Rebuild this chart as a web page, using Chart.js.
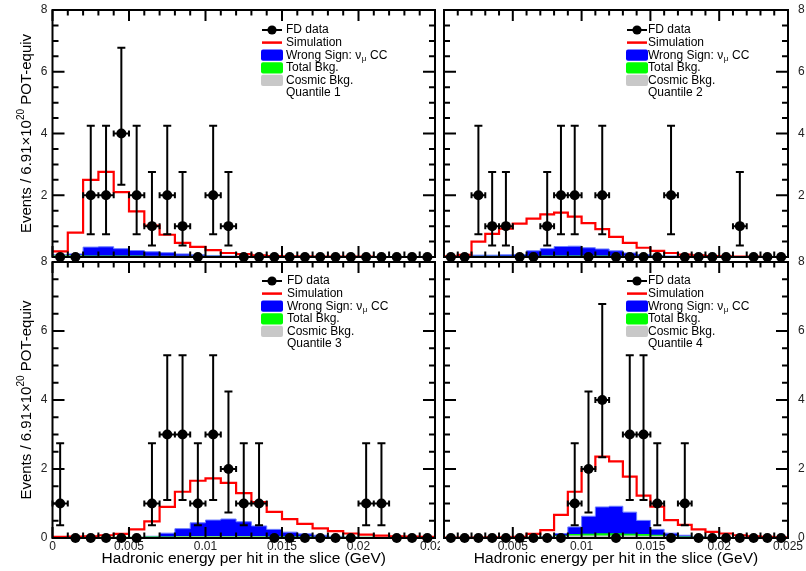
<!DOCTYPE html>
<html>
<head>
<meta charset="utf-8">
<script src="https://cdn.jsdelivr.net/npm/chart.js@4.4.0/dist/chart.umd.min.js"></script>
<style>
body{margin:0;background:#fff;width:806px;height:571px;overflow:hidden;position:relative}
canvas{position:absolute}
</style>
</head>
<body>
<canvas id="q1" style="left:0;top:0" width="440" height="262"></canvas>
<canvas id="q2" style="left:439px;top:0" width="367" height="262"></canvas>
<canvas id="q3" style="left:0;top:250px" width="440" height="321"></canvas>
<canvas id="q4" style="left:439px;top:250px" width="367" height="321"></canvas>
<script>
// binning: 25 bins of 0.001 GeV
const binWidth=0.001;
const nBins=25;
const xTicks=[0,0.005,0.01,0.015,0.02,0.025];
const xTickLabels=["0","0.005","0.01","0.015","0.02","0.025"];
const yTicks=[0,2,4,6,8];

// Feldman-Cousins 68% intervals for n = 0..4
const fcLow=[0,0.37,0.74,1.10,2.34];
const fcHigh=[1.29,2.75,4.25,5.30,6.78];

// quantile 1
const q1Data=[0,0,2,2,4,2,1,2,1,0,2,1,0,0,0,0,0,0,0,0,0,0,0,0,0];
const q1Sim=[0.18,0.79,2.5,2.76,2.1,1.48,1.02,0.72,0.46,0.33,0.22,0.13,0.09,0.05,0.03,0.02,0.02,0.01,0.01,0.01,0.01,0,0,0,0];
const q1Wrong=[0.07,0.1,0.32,0.33,0.27,0.21,0.17,0.14,0.1,0.07,0.05,0.03,0.02,0.01,0.01,0,0,0,0,0,0,0,0,0,0];
const q1Bkg=[0.04,0.04,0.03,0.03,0.03,0.03,0.02,0.02,0.02,0.02,0.02,0.01,0.01,0.01,0.01,0.01,0.01,0.01,0.01,0,0,0,0,0,0];
const q1Cosmic=[0.03,0.03,0.02,0.02,0.02,0.02,0.02,0.02,0.02,0.02,0.01,0.01,0.01,0.01,0.01,0.01,0.01,0.01,0.01,0.01,0.01,0.01,0.01,0.01,0.01];

// quantile 2
const q2Data=[0,0,2,1,1,0,0,1,2,2,0,2,0,0,0,0,2,0,0,0,0,1,0,0,0];
const q2Sim=[0.02,0.07,0.5,0.75,0.92,1.08,1.24,1.38,1.44,1.31,1.1,0.9,0.65,0.46,0.3,0.2,0.13,0.08,0.05,0.03,0.02,0.01,0.01,0,0];
const q2Wrong=[0,0.03,0.06,0.06,0.07,0.08,0.2,0.27,0.34,0.35,0.3,0.26,0.2,0.13,0.08,0.05,0.03,0.02,0.01,0,0,0,0,0,0];
const q2Bkg=[0,0.01,0.02,0.02,0.02,0.02,0.02,0.03,0.03,0.03,0.03,0.03,0.02,0.02,0.02,0.02,0.01,0.01,0.01,0.01,0.01,0,0,0,0];
const q2Cosmic=[0.01,0.01,0.01,0.01,0.01,0.01,0.01,0.02,0.02,0.02,0.02,0.02,0.02,0.02,0.02,0.01,0.01,0.01,0.01,0.01,0.01,0.01,0.01,0.01,0.01];

// quantile 3
const q3Data=[1,0,0,0,0,0,1,3,3,1,3,2,1,1,0,0,0,0,0,0,1,1,0,0,0];
const q3Sim=[0.03,0.04,0.05,0.08,0.12,0.25,0.48,0.9,1.34,1.66,1.73,1.6,1.3,1.04,0.76,0.55,0.41,0.28,0.2,0.13,0.1,0.07,0.05,0.04,0.03];
const q3Wrong=[0,0,0,0,0.01,0.02,0.05,0.14,0.27,0.44,0.52,0.55,0.47,0.35,0.25,0.17,0.12,0.08,0.05,0.03,0.02,0.01,0,0,0];
const q3Bkg=[0.02,0.02,0.02,0.02,0.02,0.02,0.03,0.03,0.04,0.04,0.04,0.04,0.04,0.04,0.03,0.03,0.03,0.02,0.02,0.02,0.02,0.01,0.01,0.01,0.01];
const q3Cosmic=[0.02,0.02,0.02,0.02,0.02,0.02,0.02,0.02,0.03,0.03,0.03,0.03,0.03,0.03,0.02,0.02,0.02,0.02,0.02,0.01,0.01,0.01,0.01,0.01,0.01];

// quantile 4
const q4Data=[0,0,0,0,0,0,0,0,0,1,2,4,0,3,3,1,0,1,0,0,0,0,0,0,0];
const q4Sim=[0.01,0.01,0.01,0.02,0.02,0.03,0.12,0.23,0.67,1.34,2.0,2.36,2.22,1.78,1.23,0.91,0.52,0.38,0.25,0.18,0.13,0.08,0.05,0.03,0.02];
const q4Wrong=[0,0,0,0,0,0,0.01,0.04,0.13,0.32,0.63,0.9,0.92,0.75,0.51,0.25,0.14,0.08,0.04,0.02,0.01,0,0,0,0];
const q4Bkg=[0.01,0.01,0.01,0.01,0.01,0.01,0.02,0.02,0.06,0.1,0.11,0.12,0.12,0.11,0.1,0.08,0.05,0.03,0.02,0.01,0.01,0.01,0.01,0.01,0.01];
const q4Cosmic=[0.01,0.01,0.01,0.01,0.01,0.01,0.01,0.02,0.04,0.06,0.06,0.06,0.06,0.06,0.05,0.05,0.04,0.02,0.02,0.01,0.01,0.01,0.01,0.01,0.01];

const FONT='"Liberation Sans", Arial, Helvetica, sans-serif';

function histPts(vals){
let p=vals.map((v,i)=>({x:i*binWidth,y:v}));
p.push({x:nBins*binWidth,y:vals[nBins-1]});
return p;
}
function dataPts(vals){
return vals.map((v,i)=>({x:(i+0.5)*binWidth,y:v}));
}

function drawFrame(chart){
const ctx=chart.ctx,a=chart.chartArea,xs=chart.scales.x,ys=chart.scales.y;
ctx.save();
ctx.strokeStyle="#000";
ctx.lineWidth=2;
ctx.strokeRect(a.left,a.top,a.right-a.left,a.bottom-a.top);
ctx.beginPath();
for(let k=0;k<=16;k++){
let y=ys.getPixelForValue(k*0.5);
let len=k%4===0?12:6;
ctx.moveTo(a.left,y);ctx.lineTo(a.left+len,y);
ctx.moveTo(a.right,y);ctx.lineTo(a.right-len,y);
}
for(let k=0;k<=nBins;k++){
let x=xs.getPixelForValue(k*binWidth);
let len=k%5===0?11:5.5;
ctx.moveTo(x,a.bottom);ctx.lineTo(x,a.bottom-len);
ctx.moveTo(x,a.top);ctx.lineTo(x,a.top+len);
}
ctx.stroke();
ctx.restore();
}

function drawErrors(chart,counts){
const ctx=chart.ctx,xs=chart.scales.x,ys=chart.scales.y;
const meta=chart.getDatasetMeta(0);
ctx.save();
ctx.strokeStyle="#000";
ctx.lineWidth=2;
ctx.beginPath();
meta.data.forEach((pt,i)=>{
let n=counts[i];
if(!n) return;
let x=pt.x,y=pt.y;
let yl=ys.getPixelForValue(fcLow[n]),yh=ys.getPixelForValue(fcHigh[n]);
let xl=xs.getPixelForValue(i*binWidth),xr=xs.getPixelForValue((i+1)*binWidth);
ctx.moveTo(x,yl);ctx.lineTo(x,yh);
ctx.moveTo(x-4,yl);ctx.lineTo(x+4,yl);
ctx.moveTo(x-4,yh);ctx.lineTo(x+4,yh);
ctx.moveTo(xl,y);ctx.lineTo(xr,y);
ctx.moveTo(xl,y-3);ctx.lineTo(xl,y+3);
ctx.moveTo(xr,y-3);ctx.lineTo(xr,y+3);
});
ctx.stroke();
ctx.restore();
}

function drawLegend(chart,lg){
const ctx=chart.ctx;
const dy=12.6;
ctx.save();
ctx.textBaseline="middle";
ctx.textAlign="left";
ctx.fillStyle="#000";
let y=lg.y0;
// FD data
ctx.strokeStyle="#000";ctx.lineWidth=2;
ctx.beginPath();ctx.moveTo(lg.mx-10,y);ctx.lineTo(lg.mx+10,y);ctx.stroke();
ctx.beginPath();ctx.arc(lg.mx,y,4.6,0,Math.PI*2);ctx.fill();
ctx.font="12px "+FONT;
ctx.fillText("FD data",lg.tx,y);
// Simulation
y+=dy;
ctx.strokeStyle="#ff0000";ctx.lineWidth=2.5;
ctx.beginPath();ctx.moveTo(lg.mx-10,y);ctx.lineTo(lg.mx+10,y);ctx.stroke();
ctx.fillText("Simulation",lg.tx,y);
// boxes
const boxes=[["#0000ff","Wrong Sign: \u03bd"],["#00ff00","Total Bkg."],["#c8c8c8","Cosmic Bkg."]];
boxes.forEach((b,k)=>{
y+=dy;
ctx.fillStyle=b[0];
ctx.beginPath();
if(ctx.roundRect) ctx.roundRect(lg.mx-11,y-5.6,22,11.2,2); else ctx.rect(lg.mx-11,y-5.6,22,11.2);
ctx.fill();
ctx.fillStyle="#000";
ctx.font="12px "+FONT;
ctx.fillText(b[1],lg.tx,y);
if(k===0){
let w=ctx.measureText(b[1]).width;
ctx.font="8px "+FONT;
ctx.fillText("\u03bc",lg.tx+w+0.5,y+3.5);
let w2=ctx.measureText("\u03bc").width;
ctx.font="12px "+FONT;
ctx.fillText(" CC",lg.tx+w+w2+1,y);
}
});
y+=dy;
ctx.fillText(lg.label,lg.tx,y);
ctx.restore();
}

function drawAxisText(chart,cfg){
const ctx=chart.ctx,a=chart.chartArea,xs=chart.scales.x,ys=chart.scales.y;
ctx.save();
ctx.fillStyle="#222";
ctx.font="12px "+FONT;
if(cfg.leftLabels){
ctx.textAlign="right";ctx.textBaseline="middle";
cfg.leftLabels.forEach(v=>ctx.fillText(String(v),a.left-5,ys.getPixelForValue(v)));
}
if(cfg.rightLabels){
ctx.textAlign="left";ctx.textBaseline="middle";
cfg.rightLabels.forEach(v=>ctx.fillText(String(v),a.right+10,ys.getPixelForValue(v)));
}
if(cfg.xLabels){
ctx.textAlign="center";ctx.textBaseline="top";
xTicks.forEach((v,i)=>{
if(cfg.xLabels.indexOf(i)<0) return;
ctx.fillText(xTickLabels[i],xs.getPixelForValue(v),a.bottom+2.5);
});
}
ctx.fillStyle="#000";
if(cfg.xTitle){
ctx.font="15.5px "+FONT;
ctx.textAlign="center";ctx.textBaseline="middle";
ctx.fillText("Hadronic energy per hit in the slice (GeV)",(a.left+a.right)/2,a.bottom+21);
}
if(cfg.yTitle){
const p1="Events / 6.91\u00d710",sup="20",p2=" POT-equiv";
ctx.translate(27,(a.top+a.bottom)/2);
ctx.rotate(-Math.PI/2);
ctx.textBaseline="middle";ctx.textAlign="left";
ctx.font="15px "+FONT;
let w1=ctx.measureText(p1).width,w3=ctx.measureText(p2).width;
ctx.font="10px "+FONT;
let w2=ctx.measureText(sup).width;
let x0=-(w1+w2+w3)/2;
ctx.font="15px "+FONT;
ctx.fillText(p1,x0,0);
ctx.font="10px "+FONT;
ctx.fillText(sup,x0+w1,-6);
ctx.font="15px "+FONT;
ctx.fillText(p2,x0+w1+w2,0);
}
ctx.restore();
}

function makePanel(id,data,sim,wrong,bkg,cosmic,cfg){
const panelPlugin={
id:"rootStyle_"+id,
beforeDatasetsDraw(chart){drawAxisText(chart,cfg);},
afterDatasetDraw(chart,args){if(args.index===1) drawFrame(chart);},
beforeDatasetDraw(chart,args){if(args.index===0) drawErrors(chart,data);},
afterDraw(chart){drawLegend(chart,cfg.legend);}
};
const hist=(vals,color,border,order,fill)=>({
data:histPts(vals),
stepped:"before",
borderColor:border,
borderWidth:fill?1:2.2,
backgroundColor:color,
fill:fill?"origin":false,
pointRadius:0,
tension:0,
order:order
});
return new Chart(document.getElementById(id),{
type:"line",
data:{
datasets:[
{label:"FD data",data:dataPts(data),showLine:false,pointRadius:5,pointBackgroundColor:"#000",pointBorderColor:"#000",pointBorderWidth:0,clip:false,order:0},
Object.assign(hist(sim,"rgba(0,0,0,0)","#ff0000",1,false),{label:"Simulation"}),
Object.assign(hist(wrong,"#0000ff","#6a7cff",4,true),{label:"Wrong Sign"}),
Object.assign(hist(bkg,"#00ff00","#00ff00",3,true),{label:"Total Bkg."}),
Object.assign(hist(cosmic,"#c8c8c8","#c8c8c8",2,true),{label:"Cosmic Bkg."})
]
},
options:{
responsive:false,
animation:false,
devicePixelRatio:1,
events:[],
layout:{padding:cfg.padding},
scales:{
x:{type:"linear",min:0,max:0.025,display:false},
y:{type:"linear",min:0,max:8,display:false}
},
plugins:{legend:{display:false},tooltip:{enabled:false}}
},
plugins:[panelPlugin]
});
}

makePanel("q1",q1Data,q1Sim,q1Wrong,q1Bkg,q1Cosmic,{
padding:{left:52.5,right:1,top:10,bottom:3},
leftLabels:[2,4,6,8],yTitle:true,
legend:{mx:272,tx:286,y0:30,label:"Quantile 1"}
});
makePanel("q2",q2Data,q2Sim,q2Wrong,q2Bkg,q2Cosmic,{
padding:{left:0.7,right:18,top:10,bottom:3},
rightLabels:[2,4,6,8],
legend:{mx:198,tx:209,y0:30,label:"Quantile 2"}
});
makePanel("q3",q3Data,q3Sim,q3Wrong,q3Bkg,q3Cosmic,{
padding:{left:52.5,right:1,top:12,bottom:33},
leftLabels:yTicks,yTitle:true,xTitle:true,xLabels:[0,1,2,3,4,5],
legend:{mx:272,tx:287,y0:31,label:"Quantile 3"}
});
makePanel("q4",q4Data,q4Sim,q4Wrong,q4Bkg,q4Cosmic,{
padding:{left:0.7,right:18,top:12,bottom:33},
rightLabels:yTicks,xTitle:true,xLabels:[1,2,3,4,5],
legend:{mx:198,tx:209,y0:31,label:"Quantile 4"}
});
</script>
</body>
</html>
